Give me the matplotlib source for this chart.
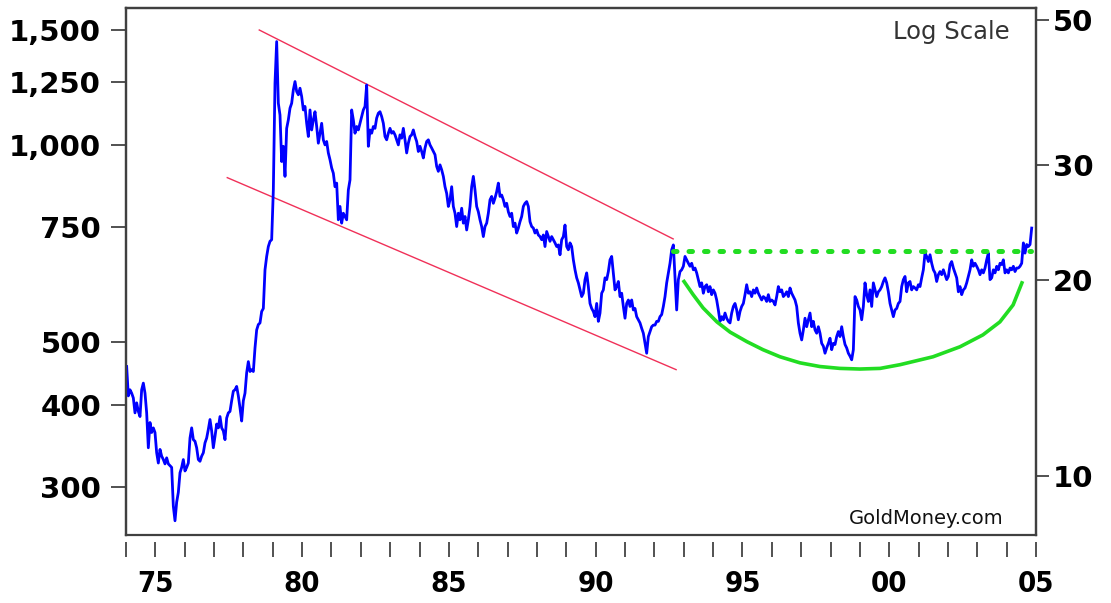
import numpy as np
import matplotlib
matplotlib.use("Agg")
import matplotlib.pyplot as plt
from matplotlib import font_manager
from matplotlib.font_manager import FontProperties
from matplotlib.ticker import NullLocator, NullFormatter

t_start, t_end = 1974.023, 2004.853
price = [
    458, 413, 422, 417, 410, 389, 403, 391, 384, 422,
    432, 417, 389, 344, 376, 363, 369, 363, 338, 326,
    342, 334, 330, 325, 332, 325, 323, 321, 280, 266,
    284, 294, 315, 321, 330, 317, 321, 326, 356, 369,
    354, 352, 344, 330, 328, 334, 338, 350, 356, 367,
    380, 365, 344, 358, 374, 369, 384, 369, 365, 354,
    382, 389, 391, 406, 420, 422, 427, 413, 396, 378,
    406, 417, 448, 466, 450, 453, 450, 489, 521, 531,
    534, 556, 562, 644, 675, 699, 712, 716,
    853, 1243, 1439, 1158, 1111, 943, 995, 895, 1060, 1092,
    1138, 1158, 1214, 1250, 1207, 1193, 1221, 1186, 1131, 1145,
    1079, 1030, 1131, 1054, 1092, 1124, 1067, 1006, 1042, 1079,
    1018, 1000, 1012, 972, 949, 922, 905, 863, 874, 768,
    805, 759, 786, 777, 768, 853, 884, 1131, 1092, 1042,
    1067, 1054, 1079, 1105, 1131, 1145, 1235, 995, 1054, 1042,
    1067, 1060, 1099, 1118, 1124, 1105, 1079, 1030, 1018, 1042,
    1060, 1042, 1048, 1036, 1018, 1000, 1036, 1024, 1060, 1018,
    972, 1006, 1030, 1036, 1054, 1030, 1012, 977, 995, 977,
    955, 989, 1012, 1018, 1000, 989, 977, 966, 927, 911,
    932,
    916, 895, 863, 843, 805, 824, 863, 805, 786, 750,
    786, 768, 800, 759, 777, 741, 768, 805, 863, 895,
    853, 805, 790, 768, 750, 724, 750, 759, 786, 824,
    834, 814, 829, 848, 874, 834, 838, 824, 805, 814,
    790, 777, 786, 750, 759, 733, 746, 763, 777, 805,
    814, 819, 805, 763, 750, 746, 733, 741, 728, 724,
    716, 728, 699, 737, 724, 712, 724, 716, 708, 699,
    703, 679, 716, 724, 754, 699, 691, 708, 699, 667,
    644, 626, 615, 600, 586, 593, 622, 637, 607, 572,
    562, 556, 546, 572, 537, 553, 593, 600, 626, 622,
    640, 667, 675, 637, 600, 607, 618, 586, 593, 566,
    543, 572, 579, 566, 579, 559, 562, 546, 540, 534,
    524, 515, 497, 480, 509, 518, 527, 530, 530, 537,
    537, 546, 550, 566, 586, 615, 637, 659, 691, 703,
    629, 559, 622, 640,
    644, 652, 675, 667, 659, 652, 659, 644, 648, 637,
    622, 607, 615, 593, 607, 611, 596, 607, 590, 600,
    593, 579, 559, 537, 546, 540, 553, 543, 537, 534,
    553, 566, 572, 559, 540, 556, 566, 572, 590, 611,
    593, 596, 586, 600, 593, 604, 593, 586, 579, 586,
    583, 576, 590, 576, 579, 576, 569, 586, 607, 596,
    600, 586, 590, 596, 586, 604, 593, 586, 579, 566,
    534, 515, 503, 521, 543, 527, 540, 553, 527, 537,
    521, 515, 527, 515, 497, 492, 480, 489, 497, 506,
    486, 497, 495, 509, 518, 509, 527, 509, 495, 489,
    480, 475, 469, 486, 586, 579, 566,
    559, 540, 566, 615, 590, 576, 600, 566, 615, 600,
    586, 596, 600, 607, 618, 626, 615, 596, 572, 559,
    546, 559, 562, 572, 576, 607, 622, 629, 596, 615,
    618, 600, 607, 604, 600, 611, 607, 626, 644, 683,
    675, 663, 679, 659, 644, 637, 618, 633, 640, 633,
    644, 633, 622, 629, 656, 663, 648, 637, 626, 596,
    607, 590, 600, 604, 615, 629, 644, 667, 652, 659,
    652, 644, 633, 644, 637, 648, 667, 683, 622, 626,
    644, 637, 652, 644, 659, 656, 667, 637, 644, 637,
    648, 644, 652, 640, 648, 648, 652, 659, 708, 683,
    704, 699, 704, 746,
]
t = np.linspace(t_start, t_end, len(price))

# red down-trend channel
upper_x = [1978.54, 1992.64]
upper_y = [1499, 718]
lower_x = [1977.45, 1992.74]
lower_y = [891, 453]

# green resistance line
resist_x = [1992.62, 2004.83]
resist_y = [689, 689]

# green saucer
arc_x = [1993.01, 1993.32, 1993.66, 1994.13, 1994.58, 1995.15, 1995.70, 1996.28,
         1996.96, 1997.64, 1998.32, 1999.00, 1999.69, 2000.37, 2001.49, 2002.41,
         2003.19, 2003.77, 2004.22, 2004.52]
arc_y = [618, 590, 563, 536, 517, 500, 486, 474, 464, 458, 455, 454, 455, 461,
         474, 491, 512, 536, 569, 615]

left_ticks = [300, 400, 500, 750, 1000, 1250, 1500]
left_labels = ["300", "400", "500", "750", "1,000", "1,250", "1,500"]
right_ticks = [10, 20, 30, 50]
years = list(range(1974, 2006))
year_labels = ["%02d" % (y % 100) if y % 5 == 0 else "" for y in years]
OZ = 31.1035  # grams per troy ounce
ylo, yhi = 253, 1620

# narrow bold face for the year labels, if one is installed
fonts = font_manager.fontManager.ttflist
names = {f.name for f in fonts}
has_cond = any(f.name == "DejaVu Sans" and f.stretch == "condensed" and f.weight == 700
               for f in fonts)
if "Liberation Sans Narrow" in names:
    xfp = FontProperties(family="Liberation Sans Narrow", weight="bold", size=24)
elif has_cond:
    xfp = FontProperties(family="DejaVu Sans", weight="bold", stretch="condensed", size=21)
else:
    xfp = FontProperties(family="DejaVu Sans", weight="bold", size=19)
yfp = FontProperties(family="DejaVu Sans", weight="bold", size=21)

fig = plt.figure(figsize=(11.11, 6.03), dpi=100)
ax = fig.add_axes([0.1134, 0.1128, 0.8191, 0.8740])

ax.plot(upper_x, upper_y, color="#f03058", lw=1.0, zorder=2)
ax.plot(lower_x, lower_y, color="#f03058", lw=1.0, zorder=2)
ax.plot(t, price, color="#0000ff", lw=2.0, zorder=3)
ax.plot(resist_x, resist_y, color="#22dd22", lw=3.6, dashes=(0.7, 2.4),
        dash_capstyle="round", zorder=4)
ax.plot(arc_x, arc_y, color="#22dd22", lw=2.6, zorder=4)

ax.set_yscale("log")
ax.set_ylim(ylo, yhi)
ax.set_xlim(1974, 2005)
ax.set_yticks(left_ticks, left_labels)
ax.yaxis.set_minor_locator(NullLocator())
ax.yaxis.set_minor_formatter(NullFormatter())
ax.set_xticks(years, year_labels)
ax.tick_params(axis="y", length=11, width=1.1, pad=7, color="#222222")
ax.tick_params(axis="x", length=11, width=1.1, pad=9, color="#222222")

ax.spines["bottom"].set_position(("outward", 5))
ax.spines["bottom"].set_visible(False)
for s in ["left", "right", "top"]:
    ax.spines[s].set_color("#404040")
    ax.spines[s].set_linewidth(1.6)

ax2 = ax.twinx()
ax2.set_yscale("log")
ax2.set_ylim(ylo / OZ, yhi / OZ)
ax2.set_yticks(right_ticks, [str(v) for v in right_ticks])
ax2.yaxis.set_minor_locator(NullLocator())
ax2.yaxis.set_minor_formatter(NullFormatter())
ax2.tick_params(axis="y", length=9, width=1.1, pad=3, color="#222222")
for s in ax2.spines.values():
    s.set_color("#404040")
    s.set_linewidth(1.6)

for lab in ax.get_xticklabels():
    lab.set_fontproperties(xfp)
for lab in ax.get_yticklabels() + ax2.get_yticklabels():
    lab.set_fontproperties(yfp)

ax.text(0.971, 0.954, "Log Scale", transform=ax.transAxes, ha="right", va="center",
        fontsize=17.5, color="#333333")
ax.text(0.964, 0.032, "GoldMoney.com", transform=ax.transAxes, ha="right", va="center",
        fontsize=14, color="#111111")

fig.savefig("out.png", dpi=100, facecolor="white")
